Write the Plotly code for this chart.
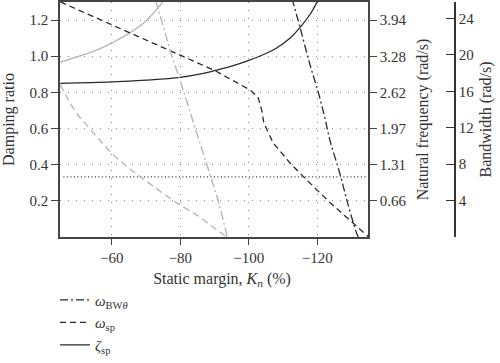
import plotly.graph_objects as go

# ---- data ----
kn_zeta_sp = [-45, -60, -70, -80, -86, -90, -95, -100, -105, -108, -112, -115, -118, -120.5]
zeta_sp = [0.850, 0.858, 0.868, 0.883, 0.902, 0.920, 0.945, 0.977, 1.015, 1.044, 1.10, 1.160, 1.235, 1.32]

kn_omega_sp = [-45, -60, -75, -90.2, -100.4, -102.7, -103.8, -104.4, -107.1, -112.1, -117.0, -123.8, -130.6, -135]
omega_sp = [4.27, 3.85, 3.44, 3.02, 2.67, 2.54, 2.30, 2.07, 1.71, 1.34, 1.03, 0.62, 0.25, 0.00]

kn_bw = [-112.6, -114.9, -117.8, -120.2, -122.2, -123.7, -126.6, -128.9, -131.5, -132.0]
bw = [26.2, 23.1, 19.0, 16.0, 13.1, 10.6, 6.95, 3.67, 0.39, 0.0]

kn_zeta_ref = [-45, -50, -55, -60, -65, -70, -75.3]
zeta_ref = [0.968, 0.997, 1.030, 1.073, 1.126, 1.195, 1.31]

kn_omega_ref = [-45, -47, -50, -55, -60, -65, -70, -75, -80, -85, -90, -93.5]
omega_ref = [2.77, 2.53, 2.23, 1.87, 1.52, 1.25, 1.02, 0.79, 0.58, 0.39, 0.16, 0.0]

kn_bw_ref = [-72.8, -75.2, -77.3, -80.2, -84.4, -88.6, -91.3, -93.7]
bw_ref = [26.0, 22.9, 20.2, 16.9, 11.9, 6.95, 3.67, 0.0]

threshold_zeta = 0.333
kn_threshold = [-45.9, -135]

x_ticks = [-60, -80, -100, -120]
zeta_ticks = [0.2, 0.4, 0.6, 0.8, 1.0, 1.2]
omega_ticks = [0.66, 1.31, 1.97, 2.62, 3.28, 3.94]
omega_ticklabels = ["0.66", "1.31", "1.97", "2.62", "3.28", "3.94"]
bw_ticks = [0, 4, 8, 12, 16, 20, 24, 25.8]
bw_ticklabels = ["", "4", "8", "12", "16", "20", "24", ""]

DARK = "#2a2a2a"
GRAY = "#b8b8b8"
FONT = "Liberation Serif"

fig = go.Figure()

# gray (reference case) curves
fig.add_trace(go.Scatter(x=kn_zeta_ref, y=zeta_ref, mode="lines", yaxis="y",
                         line=dict(color=GRAY, width=1.4, shape="spline"), showlegend=False))
fig.add_trace(go.Scatter(x=kn_omega_ref, y=omega_ref, mode="lines", yaxis="y2",
                         line=dict(color=GRAY, width=1.4, dash="7px,4px", shape="spline"), showlegend=False))
fig.add_trace(go.Scatter(x=kn_bw_ref, y=bw_ref, mode="lines", yaxis="y3",
                         line=dict(color=GRAY, width=1.4, dash="9px,3px,2px,3px", shape="spline"), showlegend=False))

# threshold line
fig.add_trace(go.Scatter(x=kn_threshold, y=[threshold_zeta, threshold_zeta], mode="lines", yaxis="y",
                         line=dict(color="#333333", width=1.2, dash="1px,2.5px"), showlegend=False))

# black curves (legend)
fig.add_trace(go.Scatter(x=kn_bw, y=bw, mode="lines", yaxis="y3",
                         name="<i>ω</i><sub>BW<i>θ</i></sub>",
                         line=dict(color=DARK, width=1.3, dash="8px,3px,2px,3px", shape="spline")))
fig.add_trace(go.Scatter(x=kn_omega_sp, y=omega_sp, mode="lines", yaxis="y2",
                         name="<i>ω</i><sub>sp</sub>",
                         line=dict(color=DARK, width=1.3, dash="6px,4px")))
fig.add_trace(go.Scatter(x=kn_zeta_sp, y=zeta_sp, mode="lines", yaxis="y",
                         name="<i>ζ</i><sub>sp</sub>",
                         line=dict(color=DARK, width=1.3, shape="spline")))

W = 410.0
grid_common = dict(gridcolor="#8a8a8a", gridwidth=1, griddash="1px,7px")

fig.update_layout(
    width=500, height=363,
    margin=dict(l=60, r=30, t=2, b=126),
    paper_bgcolor="white", plot_bgcolor="white",
    font=dict(family=FONT, size=14, color="#333333"),
    showlegend=True,
    legend=dict(x=-5 / W, xanchor="left", y=-0.198, yanchor="top",
                font=dict(family=FONT, size=15, color="#333333"),
                bgcolor="rgba(0,0,0,0)", tracegroupgap=0),
    xaxis=dict(domain=[0, 308 / W], range=[-44.9, -134.8], tickvals=x_ticks,
               showgrid=True, **grid_common, zeroline=False,
               showline=True, linecolor="#444", linewidth=1.5, mirror=True,
               ticks="outside", ticklen=6, tickcolor="#444", automargin=False,
               tickfont=dict(family=FONT, size=15),
               title=dict(text="&nbsp;&nbsp;&nbsp;&nbsp;Static margin, <i>K</i><sub><i>n</i></sub> (%)",
                          font=dict(family=FONT, size=16), standoff=8)),
    yaxis=dict(range=[0, 1.3], tickvals=zeta_ticks, tickformat=".1f",
               showgrid=True, **grid_common, zeroline=False,
               showline=True, linecolor="#444", linewidth=1.5,
               ticks="outside", ticklen=7, tickcolor="#444", automargin=False,
               tickfont=dict(family=FONT, size=15),
               title=dict(text="Damping ratio", font=dict(family=FONT, size=16), standoff=14)),
    yaxis2=dict(range=[0, 1.3 * 3.2833], overlaying="y", side="right", anchor="x",
                tickvals=omega_ticks, ticktext=omega_ticklabels,
                showgrid=False, zeroline=False,
                showline=True, linecolor="#444", linewidth=1.5,
                ticks="outside", ticklen=7, tickcolor="#444", automargin=False,
                tickfont=dict(family=FONT, size=15),
                title=dict(text="Natural frequency (rad/s)", font=dict(family=FONT, size=16), standoff=11)),
    yaxis3=dict(range=[0, 25.8], overlaying="y", side="right", anchor="free",
                position=(455 - 60) / W,
                tickvals=bw_ticks, ticktext=bw_ticklabels,
                showgrid=False, zeroline=False,
                showline=True, linecolor="#333", linewidth=1.5,
                ticks="inside", ticklen=8, tickcolor="#333", automargin=False,
                tickfont=dict(family=FONT, size=15),
                title=dict(text="Bandwidth (rad/s)", font=dict(family=FONT, size=16), standoff=6)),
)

fig.write_html("out.html", config={"displayModeBar": False},
               post_script="document.body.style.margin='0px';")
